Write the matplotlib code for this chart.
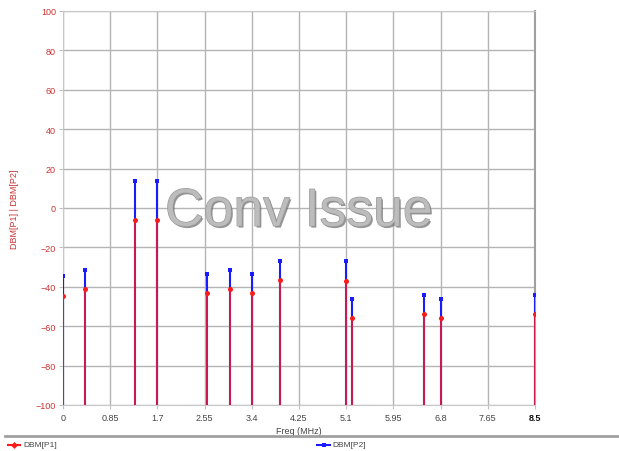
import matplotlib
matplotlib.use("Agg")
import matplotlib.pyplot as plt
import matplotlib.patheffects as pe
from matplotlib.lines import Line2D

plt.rcParams['font.family'] = ['Liberation Sans', 'DejaVu Sans']

freq = [0.0, 0.4, 1.3, 1.7, 2.6, 3.0, 3.4, 3.9, 5.1, 5.2, 6.5, 6.8, 8.5]
dbm_p1 = [-44.5, -41, -6, -6, -43.3, -41, -43.3, -36.7, -36.9, -55.8, -54, -55.8, -54]
dbm_p2 = [-34.7, -31.5, 13.5, 13.5, -33.7, -31.5, -33.7, -26.9, -26.9, -46, -44.3, -46, -44.3]
xticks = [0, 0.85, 1.7, 2.55, 3.4, 4.25, 5.1, 5.95, 6.8, 7.65, 8.5]
xtick_labels = ['0', '0.85', '1.7', '2.55', '3.4', '4.25', '5.1', '5.95', '6.8', '7.65', '8.5']
yticks = [-100, -80, -60, -40, -20, 0, 20, 40, 60, 80, 100]

W, H = 619, 452
fig = plt.figure(figsize=(W / 100, H / 100), dpi=100)
ax = fig.add_axes([63 / W, (H - 406) / H, 472 / W, 394 / H])

red = '#ff1a1a'
blue = '#1a1aff'

for x, y1, y2 in zip(freq, dbm_p1, dbm_p2):
    ax.vlines(x, -100, y2, color=blue, lw=1.5, zorder=3)
    ax.vlines(x, -100, y1, color=red, lw=1.1, zorder=4)
ax.plot(freq, dbm_p2, linestyle='none', marker='s', ms=3.4, mew=0, color=blue, zorder=5)
ax.plot(freq, dbm_p1, linestyle='none', marker='o', ms=3.6, mew=0, color=red, zorder=6)

ax.set_xlim(0, 8.5)
ax.set_ylim(-100, 100)
ax.set_xticks(xticks)
ax.set_xticklabels(xtick_labels)
ax.set_yticks(yticks)
ax.grid(True, color='#b4b4b4', lw=1.0)
ax.set_axisbelow(True)
ax.tick_params(axis='y', colors='#c0c0c0', labelcolor='#cc3333', labelsize=6.5, length=3, pad=2)
ax.tick_params(axis='x', colors='#c0c0c0', labelcolor='#444444', labelsize=6.5, length=3, pad=3)
ax.get_xticklabels()[-1].set_fontweight('bold')
ax.get_xticklabels()[-1].set_color('#111111')
for side in ['top', 'left', 'bottom']:
    ax.spines[side].set_color('#c8c8c8')
ax.spines['right'].set_color('#a0a0a0')
ax.spines['right'].set_linewidth(1.5)

ax.set_xlabel('Freq (MHz)', fontsize=6.5, color='#444444', labelpad=3)
ax.set_ylabel('DBM[P1] | DBM[P2]', fontsize=6.5, color='#cc3333', labelpad=12)

txt = ax.text(0.5, 0.49, 'Conv Issue', transform=ax.transAxes, ha='center', va='center',
              fontsize=38.5, color='#bdbdbd', alpha=0.85, zorder=7)
txt.set_path_effects([pe.withSimplePatchShadow(offset=(1.2, -1.2), shadow_rgbFace='#6a6a6a', alpha=0.7),
                      pe.Stroke(linewidth=0.8, foreground='#8e8e8e'), pe.Normal()])

# legend area
y_leg = (H - 446) / H
fig.add_artist(Line2D([5 / W, 1], [(H - 437) / H] * 2, color='#a0a0a0', lw=2))
fig.add_artist(Line2D([8 / W, 20 / W], [y_leg] * 2, color=red, lw=1.5))
fig.add_artist(Line2D([14 / W], [y_leg], color=red, marker='D', ms=3.5, mew=0, linestyle='none'))
fig.text(23 / W, y_leg, 'DBM[P1]', fontsize=6, color='#444444', va='center')
fig.add_artist(Line2D([317 / W, 330 / W], [y_leg] * 2, color=blue, lw=1.5))
fig.add_artist(Line2D([323.5 / W], [y_leg], color=blue, marker='s', ms=3.5, mew=0, linestyle='none'))
fig.text(332 / W, y_leg, 'DBM[P2]', fontsize=6, color='#444444', va='center')

fig.savefig('out.png', dpi=100)
